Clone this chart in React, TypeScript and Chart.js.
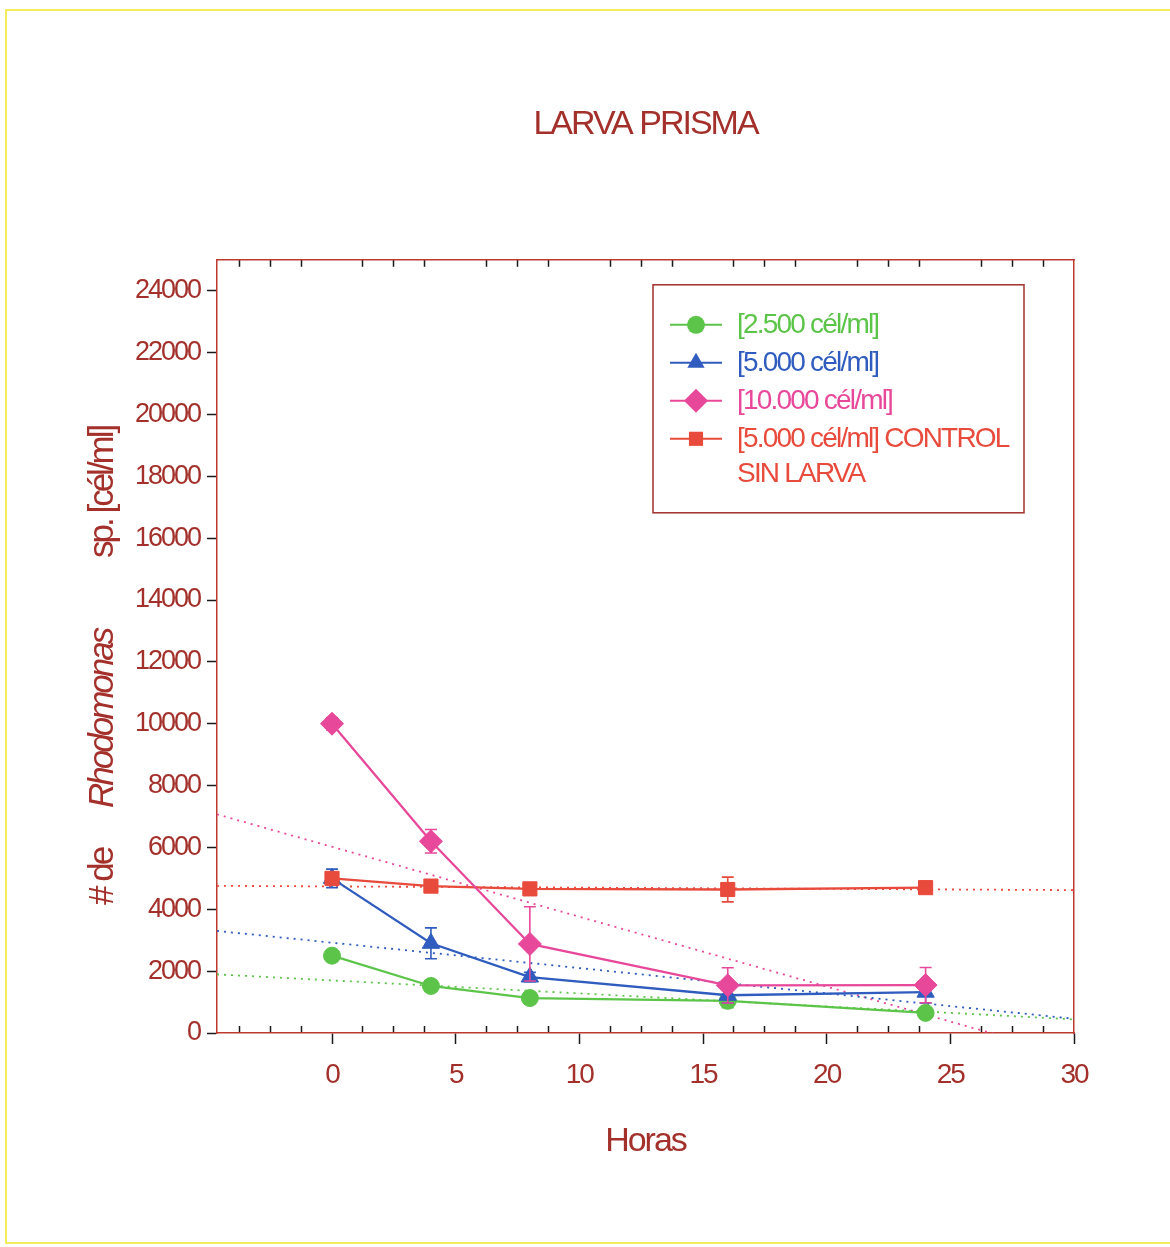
import React, { useEffect, useRef } from 'react';
import { Chart, registerables } from 'chart.js';

Chart.register(...registerables);

// Sampling times (hours)
const hours = [0, 4, 8, 16, 24];

// Mean Rhodomonas sp. counts (cél/ml) and their deviations for each treatment
const dose2500 = [2500, 1520, 1130, 1040, 650];
const dose2500Err = [120, 110, 130, 220, 160];
const dose5000 = [5000, 2900, 1810, 1220, 1320];
const dose5000Err = [300, 500, 150, 250, 350];
const dose10000 = [10000, 6200, 2880, 1540, 1550];
const dose10000Err = [200, 380, 1200, 570, 570];
const control5000 = [5000, 4750, 4660, 4640, 4700];
const control5000Err = [100, 90, 90, 400, 100];

// Linear trend per treatment: cél/ml at hour 0 and change per hour
const trendIntercept = [1700, 2920, 6020, 4740];
const trendSlope = [-42, -82, -226, -4];

const seriesLabels = [
  ['[2.500 cél/ml]'],
  ['[5.000 cél/ml]'],
  ['[10.000 cél/ml]'],
  ['[5.000 cél/ml] CONTROL', 'SIN LARVA'],
];
const seriesValues = [dose2500, dose5000, dose10000, control5000];
const seriesErrors = [dose2500Err, dose5000Err, dose10000Err, control5000Err];
const seriesColors = ['#5cc449', '#2f5cbe', '#e8489a', '#e84a3c'];
const seriesMarkers = ['circle', 'triangle', 'rectRot', 'rect'];
const markerRadius = [8.5, 10, 11.5, 10];
const legendMarkerRadius = [9, 10, 12, 10];
const seriesOrder = [4, 3, 1, 2];

const xMajorTicks = [0, 5, 10, 15, 20, 25, 30];
const yTicks = [0, 2000, 4000, 6000, 8000, 10000, 12000, 14000, 16000, 18000, 20000, 22000, 24000];
const X_MIN = -4.65;
const X_MAX = 30;
const Y_MIN = 0;
const Y_MAX = 25000;
const X_MINOR_STEP = 1.25;

const TEXT_RED = '#a3302a';
const FRAME_RED = '#bf3a2e';
const TICK_BLACK = '#1a1a1a';
const FONT = "'Liberation Sans', Arial, sans-serif";

// Minor tick positions between the labelled hours
const xMinorTicks: number[] = [];
for (let v = Math.ceil(X_MIN / X_MINOR_STEP) * X_MINOR_STEP; v < X_MAX; v += X_MINOR_STEP) {
  if (Math.abs(v / 5 - Math.round(v / 5)) > 1e-6) xMinorTicks.push(v);
}

// Tight letter spacing for every text the chart draws
const condensedText = {
  id: 'condensedText',
  beforeUpdate(chart: any) {
    chart.ctx.letterSpacing = '-2px';
  },
  beforeDraw(chart: any) {
    chart.ctx.letterSpacing = '-2px';
  },
};

// Vertical deviation bars, drawn right after their own series
const errorBars = {
  id: 'errorBars',
  afterDatasetDraw(chart: any, args: any) {
    const ds = chart.data.datasets[args.index];
    if (!ds.errors) return;
    const { ctx } = chart;
    const xs = chart.scales.x;
    const ys = chart.scales.y;
    ctx.save();
    ctx.strokeStyle = ds.borderColor;
    ctx.lineWidth = 1.6;
    ds.data.forEach((p: any, i: number) => {
      const e = ds.errors[i];
      const px = xs.getPixelForValue(p.x);
      const top = ys.getPixelForValue(p.y + e);
      const bottom = ys.getPixelForValue(p.y - e);
      ctx.beginPath();
      ctx.moveTo(px, top);
      ctx.lineTo(px, bottom);
      ctx.moveTo(px - 6, top);
      ctx.lineTo(px + 6, top);
      ctx.moveTo(px - 6, bottom);
      ctx.lineTo(px + 6, bottom);
      ctx.stroke();
    });
    ctx.restore();
  },
};

function drawMarker(ctx: CanvasRenderingContext2D, style: string, x: number, y: number, r: number) {
  ctx.beginPath();
  if (style === 'circle') {
    ctx.arc(x, y, r, 0, Math.PI * 2);
  } else if (style === 'triangle') {
    ctx.moveTo(x, y - r);
    ctx.lineTo(x + r * 0.866, y + r * 0.5);
    ctx.lineTo(x - r * 0.866, y + r * 0.5);
    ctx.closePath();
  } else if (style === 'rectRot') {
    ctx.moveTo(x, y - r);
    ctx.lineTo(x + r, y);
    ctx.lineTo(x, y + r);
    ctx.lineTo(x - r, y);
    ctx.closePath();
  } else {
    const s = r * Math.SQRT1_2;
    ctx.rect(x - s, y - s, 2 * s, 2 * s);
  }
  ctx.fill();
}

// Boxed legend inside the plot, upper right
const boxedLegend = {
  id: 'boxedLegend',
  afterDraw(chart: any) {
    const { ctx, chartArea } = chart;
    const left = chartArea.right - 421;
    const top = chartArea.top + 25;
    const width = 371;
    const height = 228;
    ctx.save();
    ctx.strokeStyle = TEXT_RED;
    ctx.lineWidth = 1.5;
    ctx.strokeRect(left, top, width, height);
    ctx.font = `28px ${FONT}`;
    ctx.letterSpacing = '-1.8px';
    ctx.textBaseline = 'middle';
    ctx.textAlign = 'left';
    seriesLabels.forEach((lines, i) => {
      const y = top + 40 + i * 38;
      const color = seriesColors[i];
      ctx.strokeStyle = color;
      ctx.fillStyle = color;
      ctx.lineWidth = 2;
      ctx.beginPath();
      ctx.moveTo(left + 17, y);
      ctx.lineTo(left + 69, y);
      ctx.stroke();
      drawMarker(ctx, seriesMarkers[i], left + 43, y, legendMarkerRadius[i]);
      lines.forEach((line, j) => {
        ctx.fillText(line, left + 84, y + j * 35);
      });
    });
    ctx.restore();
  },
};

// Rotated y-axis title with the genus name in italics
const yAxisTitle = {
  id: 'yAxisTitle',
  afterDraw(chart: any) {
    const { ctx, chartArea } = chart;
    const baseX = chartArea.left - 104;
    const pieces = [
      { text: '# de', italic: false, start: chartArea.bottom - 128 },
      { text: 'Rhodomonas', italic: true, start: chartArea.bottom - 225 },
      { text: 'sp. [cél/ml]', italic: false, start: chartArea.bottom - 475 },
    ];
    ctx.save();
    ctx.fillStyle = TEXT_RED;
    ctx.letterSpacing = '-3px';
    ctx.textAlign = 'left';
    ctx.textBaseline = 'alphabetic';
    pieces.forEach((p) => {
      ctx.save();
      ctx.translate(baseX, p.start);
      ctx.rotate(-Math.PI / 2);
      ctx.font = `${p.italic ? 'italic ' : ''}35px ${FONT}`;
      ctx.fillText(p.text, 0, 0);
      ctx.restore();
    });
    ctx.restore();
  },
};

export default function App() {
  const canvasRef = useRef<HTMLCanvasElement | null>(null);

  useEffect(() => {
    if (!canvasRef.current) return;
    Chart.defaults.font.family = FONT;

    const seriesDatasets = seriesValues.map((vals, i) => ({
      label: seriesLabels[i].join(' '),
      data: hours.map((h, j) => ({ x: h, y: vals[j] })),
      errors: seriesErrors[i],
      borderColor: seriesColors[i],
      backgroundColor: seriesColors[i],
      borderWidth: 2.3,
      pointStyle: seriesMarkers[i],
      pointRadius: markerRadius[i],
      pointBorderWidth: 1,
      pointBorderColor: seriesColors[i],
      pointBackgroundColor: seriesColors[i],
      tension: 0,
      order: seriesOrder[i],
    }));

    const trendDatasets = trendIntercept.map((a, i) => ({
      label: 'tendencia ' + seriesLabels[i][0],
      data: [X_MIN, X_MAX].map((x) => ({ x, y: a + trendSlope[i] * x })),
      borderColor: seriesColors[i],
      borderWidth: 1.8,
      borderDash: [2, 5],
      pointRadius: 0,
      order: 10,
    }));

    const chart = new Chart(canvasRef.current, {
      type: 'line',
      data: { datasets: [...seriesDatasets, ...trendDatasets] as any },
      options: {
        responsive: false,
        animation: false,
        events: [],
        layout: { padding: { left: 60, right: 96, top: 0, bottom: 0 } },
        plugins: {
          legend: { display: false },
          tooltip: { enabled: false },
          title: {
            display: true,
            text: 'LARVA PRISMA',
            fullSize: false,
            color: TEXT_RED,
            font: { size: 34, weight: 'normal' },
            padding: { top: 104, bottom: 115 },
          },
        },
        scales: {
          x: {
            type: 'linear',
            position: 'bottom',
            min: X_MIN,
            max: X_MAX,
            weight: 1,
            afterBuildTicks: (axis: any) => {
              axis.ticks = xMajorTicks.map((v) => ({ value: v }));
            },
            afterFit: (axis: any) => {
              axis.height = 214;
            },
            grid: {
              drawOnChartArea: false,
              drawTicks: true,
              tickLength: 11,
              tickWidth: 1.5,
              tickColor: TICK_BLACK,
              color: TICK_BLACK,
            },
            border: { display: true, color: FRAME_RED, width: 1.5 },
            ticks: {
              autoSkip: false,
              maxRotation: 0,
              color: TEXT_RED,
              font: { size: 28 },
              padding: 14,
            },
            title: {
              display: true,
              text: 'Horas',
              color: TEXT_RED,
              font: { size: 34 },
              padding: { top: 0, bottom: 85 },
            },
          },
          xMinor: {
            type: 'linear',
            position: 'bottom',
            min: X_MIN,
            max: X_MAX,
            weight: 0,
            afterBuildTicks: (axis: any) => {
              axis.ticks = xMinorTicks.map((v) => ({ value: v }));
            },
            afterFit: (axis: any) => {
              axis.height = 0;
            },
            grid: {
              drawOnChartArea: false,
              drawTicks: true,
              tickLength: -7,
              tickWidth: 1.5,
              tickColor: TICK_BLACK,
            },
            border: { display: false },
            ticks: { display: false, autoSkip: false },
          },
          xTop: {
            type: 'linear',
            position: 'top',
            min: X_MIN,
            max: X_MAX,
            afterBuildTicks: (axis: any) => {
              axis.ticks = xMinorTicks.map((v) => ({ value: v }));
            },
            afterFit: (axis: any) => {
              axis.height = 0;
            },
            grid: {
              drawOnChartArea: false,
              drawTicks: true,
              tickLength: -7,
              tickWidth: 1.5,
              tickColor: TICK_BLACK,
            },
            border: { display: true, color: FRAME_RED, width: 1.5 },
            ticks: { display: false, autoSkip: false },
          },
          y: {
            type: 'linear',
            position: 'left',
            min: Y_MIN,
            max: Y_MAX,
            afterBuildTicks: (axis: any) => {
              axis.ticks = yTicks.map((v) => ({ value: v }));
            },
            afterFit: (axis: any) => {
              axis.width = 157;
            },
            grid: {
              drawOnChartArea: false,
              drawTicks: true,
              tickLength: 10,
              tickWidth: 1.5,
              tickColor: TICK_BLACK,
            },
            border: { display: true, color: FRAME_RED, width: 1.5 },
            ticks: {
              autoSkip: false,
              color: TEXT_RED,
              font: { size: 27 },
              padding: 7,
              callback: (v: any) => String(v),
            },
          },
          yRight: {
            type: 'linear',
            position: 'right',
            min: Y_MIN,
            max: Y_MAX,
            afterFit: (axis: any) => {
              axis.width = 0;
            },
            grid: { display: false, drawTicks: false },
            border: { display: true, color: FRAME_RED, width: 1.5 },
            ticks: { display: false },
          },
        },
      } as any,
      plugins: [condensedText, errorBars, boxedLegend, yAxisTitle],
    });

    return () => chart.destroy();
  }, []);

  return (
    <div style={{ position: 'fixed', left: 0, top: 0, width: 1170, height: 1247, background: '#ffffff' }}>
      <div
        style={{
          position: 'absolute',
          left: 5,
          top: 9,
          width: 1165,
          height: 1235,
          borderTop: '2px solid #f3ec5c',
          borderLeft: '2px solid #f3ec5c',
          borderBottom: '2px solid #f3ec5c',
          boxSizing: 'border-box',
        }}
      />
      <canvas
        ref={canvasRef}
        width={1170}
        height={1247}
        style={{ position: 'absolute', left: 0, top: 0, width: 1170, height: 1247 }}
      />
    </div>
  );
}
